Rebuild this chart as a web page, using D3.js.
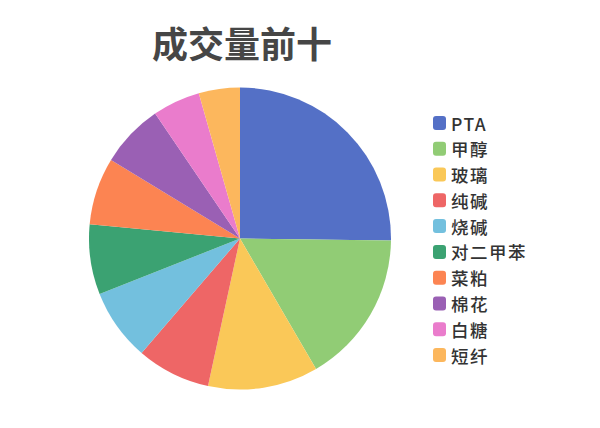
<!DOCTYPE html>
<html>
<head>
<meta charset="utf-8">
<script src="https://cdn.jsdelivr.net/npm/d3@7"></script>
<style>
  body { margin: 0; background: #fff; }
  svg { display: block; font-family: "Noto Sans CJK SC", "Noto Sans", sans-serif; }
</style>
</head>
<body>
<svg width="600" height="428"></svg>
<script>
// 品种与成交量占比(千分比,读图估计)
const categories = ["PTA", "甲醇", "玻璃", "纯碱", "烧碱", "对二甲苯", "菜粕", "棉花", "白糖", "短纤"];
const volumes = [252, 164, 118, 79, 77, 75, 72, 68, 51, 44];
const colors = ["#5470c6", "#91cc75", "#fac858", "#ee6666", "#73c0de", "#3ba272", "#fc8452", "#9a60b4", "#ea7ccc", "#fcb75d"];

const data = categories.map((c, i) => ({ name: c, value: volumes[i] }));

const width = 600, height = 428;
const cx = 240, cy = 238.5, radius = 151;

const svg = d3.select("svg");

// 标题
svg.append("text")
    .attr("x", 242)
    .attr("y", 42)
    .attr("text-anchor", "middle")
    .attr("dominant-baseline", "central")
    .style("font-size", "36px")
    .style("font-weight", "bold")
    .style("fill", "#464646")
    .text("成交量前十");

const color = d3.scaleOrdinal().domain(categories).range(colors);

const pie = d3.pie().value(d => d.value).sort(null);
const arc = d3.arc().innerRadius(0).outerRadius(radius);

// 饼图
svg.append("g")
    .attr("transform", `translate(${cx},${cy})`)
    .selectAll("path")
    .data(pie(data))
    .enter().append("path")
    .attr("d", arc)
    .attr("fill", d => color(d.data.name));

// 图例
const legendY = d3.scalePoint().domain(categories).range([123, 355]);

const legend = svg.append("g")
    .selectAll("g")
    .data(categories)
    .enter().append("g")
    .attr("transform", d => `translate(433,${legendY(d)})`);

legend.append("rect")
    .attr("x", 0)
    .attr("y", -7)
    .attr("width", 13)
    .attr("height", 14)
    .attr("rx", 3)
    .attr("fill", d => color(d));

legend.append("text")
    .attr("x", 18)
    .attr("y", 0)
    .attr("dominant-baseline", "central")
    .style("font-size", "17.5px")
    .style("letter-spacing", "1.5px")
    .style("font-weight", "500")
    .style("fill", "#333")
    .text(d => d);
</script>
</body>
</html>
